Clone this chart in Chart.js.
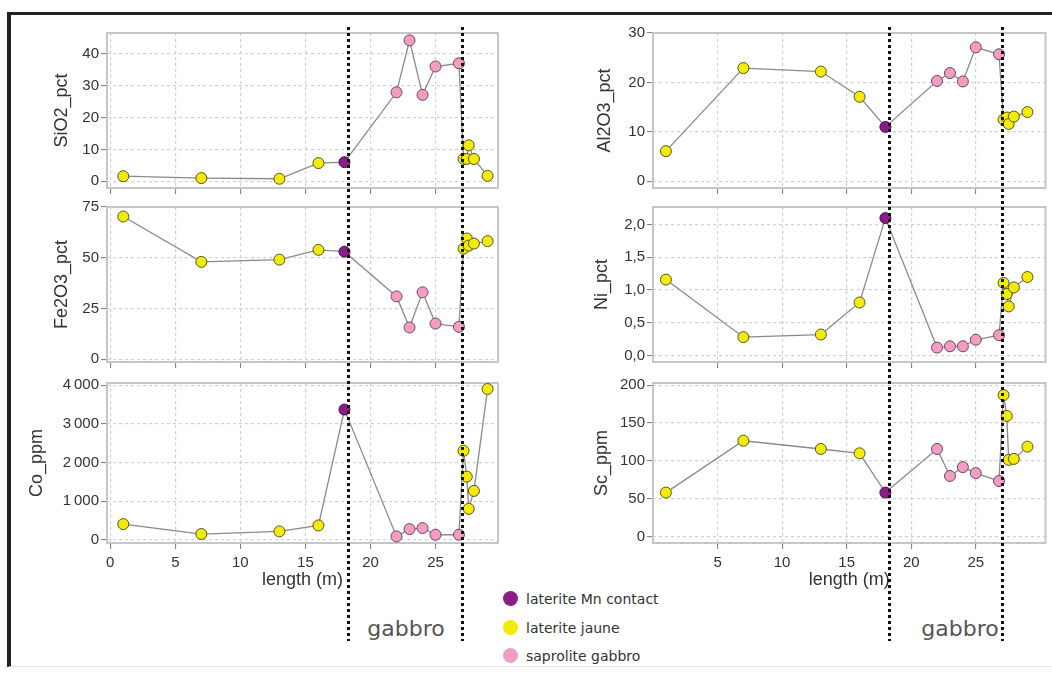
<!DOCTYPE html>
<html>
<head>
<meta charset="utf-8">
<script src="https://cdn.jsdelivr.net/npm/chart.js@4.4.1/dist/chart.umd.min.js"></script>
<style>
  body { margin: 0; width: 1052px; height: 675px; background: #fff; position: relative; overflow: hidden; font-family: "Liberation Sans", Arial, sans-serif; }
  #frame { position: absolute; left: 7px; top: 12px; width: 1045px; height: 655px; border-top: 3px solid #222; border-left: 4px solid #222; border-bottom: 1px solid #e6e6e6; box-sizing: border-box; }
  canvas.panel { position: absolute; }
  #overlay { position: absolute; left: 0; top: 0; pointer-events: none; }
  .gabbro { position: absolute; top: 616px; font: 22px "DejaVu Sans", sans-serif; color: #555; transform: translateX(-50%); }
  .leg { position: absolute; left: 503px; height: 18px; font: 14px "DejaVu Sans", sans-serif; color: #333; line-height: 18px; }
  .leg span.dot { position: absolute; left: 0; top: 1px; width: 15px; height: 15px; border-radius: 50%; }
  .leg span.txt { position: absolute; left: 23px; top: 0; white-space: nowrap; }
</style>
</head>
<body>
<div id="frame"></div>
<div class="gabbro" style="left:406px">gabbro</div>
<div class="gabbro" style="left:960px">gabbro</div>
<div id="legend"></div>
<canvas id="overlay" width="1052" height="675"></canvas>
<script>
// sample positions along the profile (m) and their facies
const lengthM = [1, 7, 13, 16, 18, 22, 23, 24, 25, 26.8, 27.15, 27.4, 27.55, 27.95, 29];
const facies  = ["jaune", "jaune", "jaune", "jaune", "mn", "sap", "sap", "sap", "sap", "sap", "jaune", "jaune", "jaune", "jaune", "jaune"];

const sio2Pct  = [1.6, 1.0, 0.8, 5.7, 6.0, 27.9, 44.2, 27.1, 36.0, 37.0, 7.0, 7.0, 11.3, 7.0, 1.7];
const fe2o3Pct = [70.3, 48.0, 49.1, 53.9, 53.0, 31.0, 15.7, 33.0, 17.6, 16.0, 54.5, 59.5, 56.0, 57.0, 58.2];
const coPpm    = [405, 147, 215, 370, 3372, 86, 275, 301, 129, 129, 2305, 1634, 800, 1264, 3905];
const al2o3Pct = [6.1, 22.9, 22.2, 17.1, 11.0, 20.3, 21.9, 20.2, 27.1, 25.7, 12.5, 12.9, 11.6, 13.1, 14.0];
const niPct    = [1.16, 0.28, 0.32, 0.81, 2.10, 0.12, 0.14, 0.14, 0.24, 0.31, 1.11, 0.94, 0.75, 1.04, 1.20];
const scPpm    = [58, 126.6, 115.7, 110, 58, 115.7, 80, 91.7, 83.8, 73.3, 187, 159.4, 101.3, 102.6, 118.8];

// contacts (dotted lines)
const contactsM = [18.3, 27.05];

// tick values / labels
const xTicksLeft  = [0, 5, 10, 15, 20, 25];
const xTicksRight = [5, 10, 15, 20, 25];
const sio2Ticks  = [0, 10, 20, 30, 40];
const fe2o3Ticks = [0, 25, 50, 75];
const coTicks    = [0, 1000, 2000, 3000, 4000];
const coLabels   = ["0", "1\u2009000", "2\u2009000", "3\u2009000", "4\u2009000"];
const al2o3Ticks = [0, 10, 20, 30];
const niTicks    = [0, 0.5, 1, 1.5, 2];
const niLabels   = ["0,0", "0,5", "1,0", "1,5", "2,0"];
const scTicks    = [0, 50, 100, 150, 200];

const faciesKeys  = ["mn", "jaune", "sap"];
const faciesNames = ["laterite Mn contact", "laterite jaune", "saprolite gabbro"];
const faciesFill  = { mn: "#8a1c88", jaune: "#f3ea08", sap: "#f49cc3" };
const faciesEdge  = { mn: "#4a0c48", jaune: "#555522", sap: "#6a4a58" };

Chart.defaults.font.family = '"Liberation Sans", Arial, sans-serif';

// panel geometry (layout only)
const colLeft  = [7, 553];
const colWidth = [501, 499];
const colPadR  = [10, 4];
const colXMin  = [-0.25, 0];
const colXMax  = [29.8, 30.4];
const colXTicks = [xTicksLeft, xTicksRight];
const rowTop   = [22, 196, 372];
const plotH    = 161;
const xAxisH   = [6, 6, 50];

const panels = [
  { col: 0, row: 0, title: "SiO2_pct",  values: sio2Pct,  ticks: sio2Ticks,  labels: null,     min: -2.1,  max: 46.5, titlePad: 44 },
  { col: 0, row: 1, title: "Fe2O3_pct", values: fe2o3Pct, ticks: fe2o3Ticks, labels: null,     min: -1.3,  max: 75,   titlePad: 44 },
  { col: 0, row: 2, title: "Co_ppm",    values: coPpm,    ticks: coTicks,    labels: coLabels, min: -85,   max: 4060, titlePad: 19 },
  { col: 1, row: 0, title: "Al2O3_pct", values: al2o3Pct, ticks: al2o3Ticks, labels: null,     min: -1.35, max: 30,   titlePad: 41 },
  { col: 1, row: 1, title: "Ni_pct",    values: niPct,    ticks: niTicks,    labels: niLabels, min: -0.1,  max: 2.27, titlePad: 38 },
  { col: 1, row: 2, title: "Sc_ppm",    values: scPpm,    ticks: scTicks,    labels: null,     min: -8.7,  max: 203,  titlePad: 38 }
];

const plotFrame = {
  id: "plotFrame",
  beforeDatasetsDraw(chart) {
    const a = chart.chartArea, ctx = chart.ctx;
    ctx.save();
    ctx.strokeStyle = "#c6c6c6";
    ctx.lineWidth = 2;
    ctx.strokeRect(a.left, a.top, a.width, a.height);
    ctx.restore();
  }
};

const gridOpts = { color: "#d0d0d0", lineWidth: 1.2, tickLength: 6, tickColor: "#777", tickWidth: 1 };

const charts = panels.map(p => {
  const cv = document.createElement("canvas");
  cv.className = "panel";
  const h = 10 + plotH + xAxisH[p.row];
  cv.width = colWidth[p.col];
  cv.height = h;
  cv.style.left = colLeft[p.col] + "px";
  cv.style.top = rowTop[p.row] + "px";
  cv.style.width = colWidth[p.col] + "px";
  cv.style.height = h + "px";
  document.body.insertBefore(cv, document.getElementById("overlay"));

  const bottom = p.row === 2;
  return new Chart(cv.getContext("2d"), {
    type: "line",
    data: {
      datasets: [{
        data: lengthM.map((x, i) => ({ x: x, y: p.values[i] })),
        borderColor: "#8a8a8a",
        borderWidth: 1.3,
        tension: 0,
        clip: false,
        pointRadius: 5.5,
        pointBorderWidth: 1,
        pointBackgroundColor: facies.map(f => faciesFill[f]),
        pointBorderColor: facies.map(f => faciesEdge[f])
      }]
    },
    options: {
      responsive: false,
      animation: false,
      layout: { padding: { top: 10, right: colPadR[p.col], left: 0, bottom: 0 } },
      plugins: { legend: { display: false }, tooltip: { enabled: false } },
      scales: {
        x: {
          type: "linear",
          min: colXMin[p.col],
          max: colXMax[p.col],
          afterBuildTicks: ax => { ax.ticks = colXTicks[p.col].map(v => ({ value: v })); },
          afterFit: ax => { ax.height = xAxisH[p.row]; },
          ticks: { display: bottom, autoSkip: false, maxRotation: 0, font: { size: 15 }, color: "#333", padding: 5 },
          grid: gridOpts,
          border: { display: false, dash: [3, 3] },
          title: { display: bottom, text: "length (m)", font: { size: 18 }, color: "#333", padding: { top: 0, bottom: 2 } }
        },
        y: {
          min: p.min,
          max: p.max,
          afterBuildTicks: ax => { ax.ticks = p.ticks.map(v => ({ value: v })); },
          afterFit: ax => { ax.width = 100; },
          ticks: {
            font: { size: 15 }, color: "#333", padding: 2,
            callback: (v, i) => p.labels ? p.labels[i] : String(v)
          },
          grid: gridOpts,
          border: { display: false, dash: [3, 3] },
          title: { display: true, text: p.title, font: { size: 18 }, color: "#333", padding: { top: p.titlePad, bottom: 0 } }
        }
      }
    },
    plugins: [plotFrame]
  });
});

// dotted contact lines running through both columns
const ov = document.getElementById("overlay").getContext("2d");
ov.setLineDash([3, 3]);
ov.lineWidth = 3;
ov.strokeStyle = "#111";
[0, 3].forEach(idx => {
  const ch = charts[idx];
  const left = colLeft[panels[idx].col];
  contactsM.forEach(v => {
    const px = Math.round(left + ch.scales.x.getPixelForValue(v)) + 0.5;
    ov.beginPath();
    ov.moveTo(px, 27);
    ov.lineTo(px, 641);
    ov.stroke();
  });
});

// legend
const legend = document.getElementById("legend");
faciesKeys.forEach((k, i) => {
  const row = document.createElement("div");
  row.className = "leg";
  row.style.top = (590 + i * 28.5) + "px";
  row.innerHTML = '<span class="dot" style="background:' + faciesFill[k] + '"></span><span class="txt">' + faciesNames[i] + "</span>";
  legend.appendChild(row);
});
</script>
</body>
</html>
